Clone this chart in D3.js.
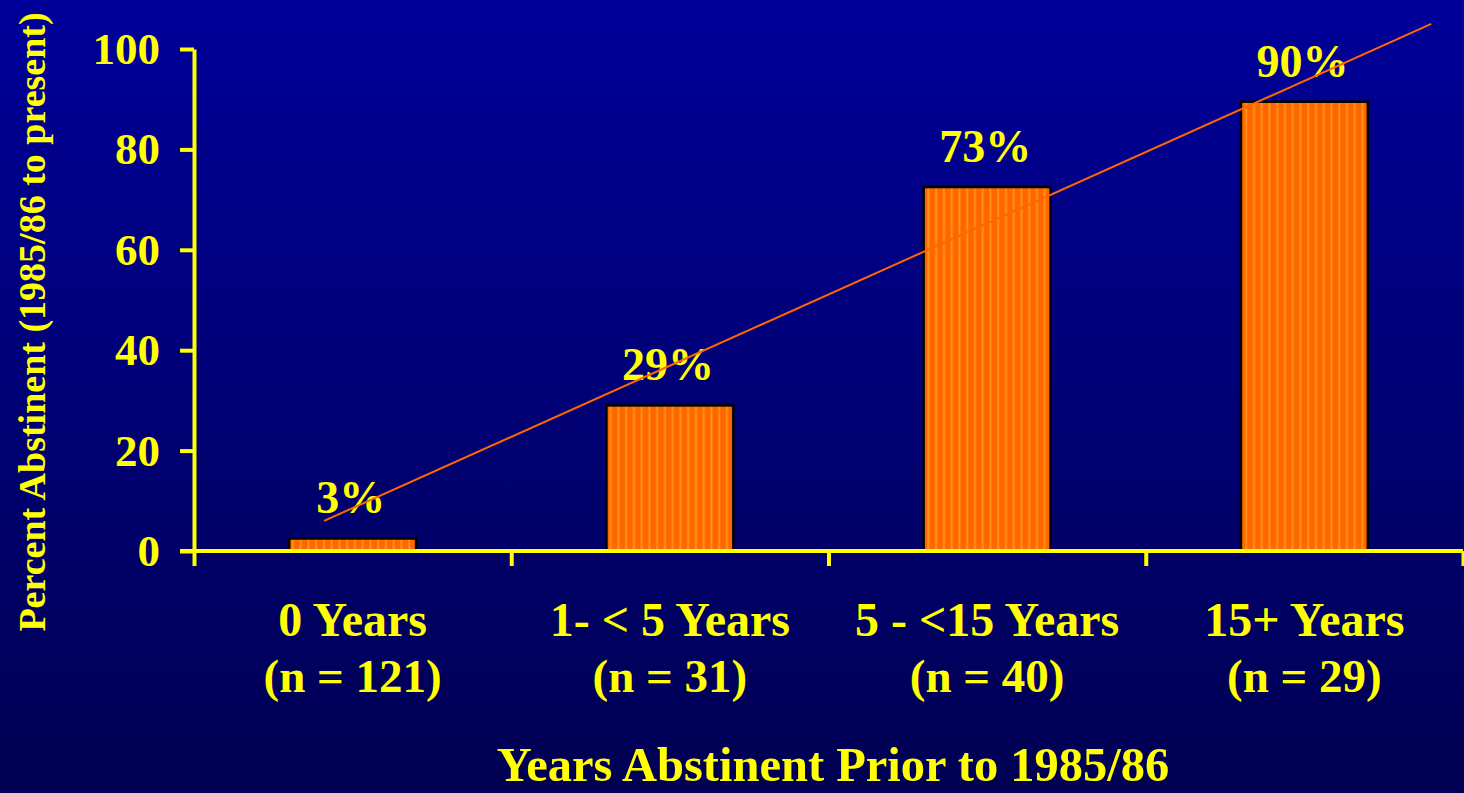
<!DOCTYPE html>
<html>
<head>
<meta charset="utf-8">
<script src="https://cdn.jsdelivr.net/npm/d3@7"></script>
<style>
  html, body { margin: 0; padding: 0; background: #000080; overflow: hidden; }
  svg { display: block; }
  text { font-family: "Liberation Serif", "Times New Roman", serif; font-weight: bold; fill: #FFFF00; }
</style>
</head>
<body>
<svg id="chart" width="1464" height="793"></svg>
<script>
// ---- data ----
const categories = ["0 Years", "1- < 5 Years", "5 - <15 Years", "15+ Years"];
const sampleSizes = ["(n = 121)", "(n = 31)", "(n = 40)", "(n = 29)"];
const values = [2.5, 29, 72.5, 89.5];
const valueLabels = ["3%", "29%", "73%", "90%"];
const yTicks = [0, 20, 40, 60, 80, 100];
// trend line endpoints: [category position (0..4), percent]
const trendLine = [[0.41, 6], [3.9, 105]];
const yTitle = "Percent Abstinent (1985/86 to present)";
const xTitle = "Years Abstinent Prior to 1985/86";

// ---- layout ----
const W = 1464, H = 793;
const plotLeft = 194, plotRight = 1463, plotTop = 49, plotBottom = 551;
const svg = d3.select("#chart");

const defs = svg.append("defs");
const bg = defs.append("linearGradient").attr("id", "bg")
  .attr("x1", 0).attr("y1", 0).attr("x2", 0).attr("y2", 1);
bg.append("stop").attr("offset", "0%").attr("stop-color", "#000099");
bg.append("stop").attr("offset", "100%").attr("stop-color", "#000052");

const pat = defs.append("pattern").attr("id", "stripes")
  .attr("patternUnits", "userSpaceOnUse").attr("width", 7.75).attr("height", 10);
pat.append("rect").attr("width", 7.75).attr("height", 10).attr("fill", "#FF6600");
pat.append("rect").attr("x", 5.2).attr("width", 2).attr("height", 10).attr("fill", "#FF9410");

svg.append("rect").attr("width", W).attr("height", H).attr("fill", "url(#bg)");

const x = d3.scaleBand().domain(categories).range([plotLeft, plotRight])
  .paddingInner(0.6).paddingOuter(0.3);
const xLin = d3.scaleLinear().domain([0, categories.length]).range([plotLeft, plotRight]);
const y = d3.scaleLinear().domain([0, 100]).range([plotBottom, plotTop]);

// bars
svg.append("g").selectAll("rect").data(values).join("rect")
  .attr("x", (d, i) => x(categories[i]))
  .attr("y", d => y(d))
  .attr("width", x.bandwidth())
  .attr("height", d => y(0) - y(d))
  .attr("fill", "url(#stripes)")
  .attr("stroke", "#000000")
  .attr("stroke-width", 2.5);

// y axis
const yAxis = svg.append("g").attr("transform", `translate(${plotLeft},0)`)
  .call(d3.axisLeft(y).tickValues(yTicks).tickSize(14).tickSizeOuter(0).tickPadding(20));
yAxis.selectAll("path, line").attr("stroke", "#FFFF00").attr("stroke-width", 4);
yAxis.selectAll("text").attr("font-size", 45).attr("fill", "#FFFF00")
  .attr("font-family", "Liberation Serif, serif").attr("font-weight", "bold");

// x axis
const xAxis = svg.append("g").attr("transform", `translate(0,${plotBottom})`)
  .call(d3.axisBottom(xLin).tickValues(d3.range(categories.length + 1)).tickSize(15).tickSizeOuter(0).tickFormat(""));
xAxis.select(".domain").attr("d", `M${plotLeft - 14},0H${plotRight}`);
xAxis.selectAll("path, line").attr("stroke", "#FFFF00").attr("stroke-width", 4);

// category labels
const cx = c => x(c) + x.bandwidth() / 2;
svg.append("g").selectAll("text").data(categories).join("text")
  .attr("x", d => cx(d)).attr("y", 636)
  .attr("text-anchor", "middle").attr("font-size", 48)
  .style("white-space", "pre")
  .text(d => d);
svg.append("g").selectAll("text").data(sampleSizes).join("text")
  .attr("x", (d, i) => cx(categories[i])).attr("y", 692)
  .attr("text-anchor", "middle").attr("font-size", 47)
  .text(d => d);

// value labels
svg.append("g").selectAll("text").data(values).join("text")
  .attr("x", (d, i) => cx(categories[i]) - 2).attr("y", d => y(d) - 25)
  .attr("text-anchor", "middle").attr("font-size", 46)
  .text((d, i) => valueLabels[i]);

// trend line
svg.append("path").datum(trendLine)
  .attr("d", d3.line().x(d => xLin(d[0])).y(d => y(d[1])))
  .attr("stroke", "#FF6600").attr("stroke-width", 2).attr("fill", "none");

// axis titles
svg.append("text").attr("x", 833).attr("y", 781)
  .attr("text-anchor", "middle").attr("font-size", 48.5).text(xTitle);
svg.append("text").attr("transform", "translate(45,322) rotate(-90)")
  .attr("text-anchor", "middle").attr("font-size", 38).text(yTitle);
</script>
</body>
</html>
